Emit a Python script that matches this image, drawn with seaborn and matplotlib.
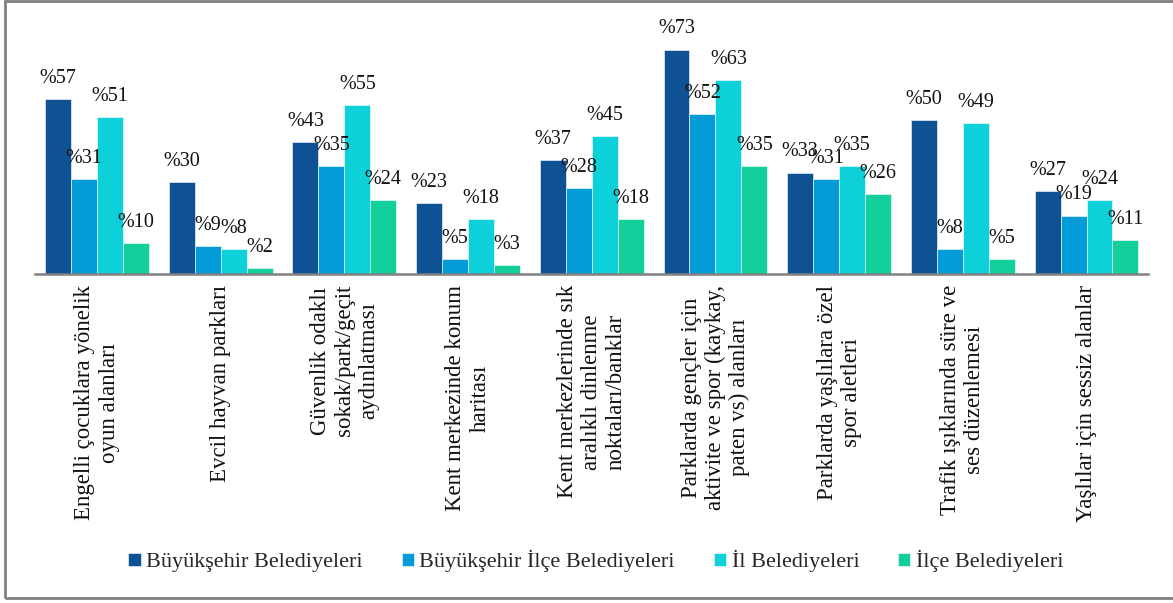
import matplotlib
matplotlib.use("Agg")
import matplotlib.pyplot as plt
import seaborn as sns
import pandas as pd
from matplotlib.patches import Rectangle

categories = [
    "Engelli çocuklara yönelik\noyun alanları",
    "Evcil hayvan parkları",
    "Güvenlik odaklı\nsokak/park/geçit\naydınlatması",
    "Kent merkezinde konum\nharitası",
    "Kent merkezlerinde sık\naralıklı dinlenme\nnoktaları/banklar",
    "Parklarda gençler için\naktivite ve spor (kaykay,\npaten vs) alanları",
    "Parklarda yaşlılara özel\nspor aletleri",
    "Trafik ışıklarında süre ve\nses düzenlemesi",
    "Yaşlılar için sessiz alanlar",
]
series = ["Büyükşehir Belediyeleri", "Büyükşehir İlçe Belediyeleri",
          "İl Belediyeleri", "İlçe Belediyeleri"]
buyuksehir = [57, 30, 43, 23, 37, 73, 33, 50, 27]
buyuksehir_ilce = [31, 9, 35, 5, 28, 52, 31, 8, 19]
il = [51, 8, 55, 18, 45, 63, 35, 49, 24]
ilce = [10, 2, 24, 3, 18, 35, 26, 5, 11]
colors = ["#0F5294", "#039CD8", "#0DD0D9", "#13CF9B"]

values = [buyuksehir, buyuksehir_ilce, il, ilce]
df = pd.DataFrame({
    "kategori": [c for _ in series for c in categories],
    "grup": [s for s in series for _ in categories],
    "oran": [v for vals in values for v in vals],
})

sns.set_theme(style="white")
plt.rcParams["font.family"] = ["Liberation Serif", "DejaVu Serif"]

fig = plt.figure(figsize=(11.73, 6.03), dpi=100)
ax = fig.add_axes([0.030, 0.5456, 0.949, 0.437])

sns.barplot(data=df, x="kategori", y="oran", hue="grup", order=categories,
            hue_order=series, palette=colors, width=0.84, saturation=1,
            edgecolor="white", linewidth=0.4, ax=ax, legend=True)

for cont, vals in zip(ax.containers, values):
    ax.bar_label(cont, labels=[f"%{v}" for v in vals], padding=8,
                 fontsize=14.5, color="#111111")

ax.set_ylim(0, 85.7)
ax.set_xlim(-0.5, len(categories) - 0.5)
ax.set_xlabel("")
ax.set_ylabel("")
ax.set_yticks([])
for side in ["top", "right", "left"]:
    ax.spines[side].set_visible(False)
ax.spines["bottom"].set_color("#808080")
ax.spines["bottom"].set_linewidth(1.8)
ax.tick_params(axis="x", length=0, pad=8)
ax.set_xticks(range(len(categories)))
ax.set_xticklabels(categories, rotation=90, fontsize=16.5,
                   multialignment="center", color="#111111")

handles, labels = ax.get_legend_handles_labels()
ax.legend_.remove()
fig.legend(handles, labels, loc="center", bbox_to_anchor=(0.508, 0.069),
           ncol=4, frameon=False, fontsize=16, handlelength=0.55,
           handleheight=0.55, handletextpad=0.25, columnspacing=1.75)

fig.patches.append(Rectangle((0.0045, 0.008), 1.2, 0.99, transform=fig.transFigure,
                             fill=False, edgecolor="#808080", linewidth=2))

fig.savefig("out.png", dpi=100, facecolor="white")
